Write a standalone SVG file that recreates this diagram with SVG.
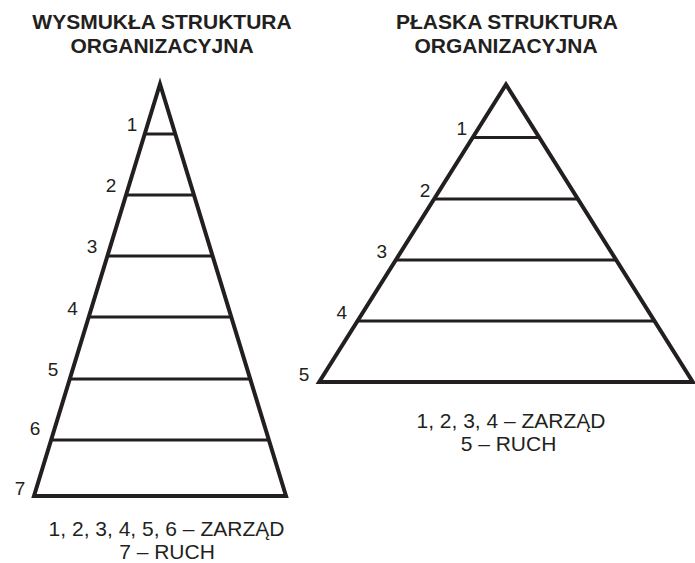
<svg xmlns="http://www.w3.org/2000/svg" width="695" height="563" viewBox="0 0 695 563">
<style>
.title{font-family:"Liberation Sans",Arial,sans-serif;font-weight:bold;font-size:21px;fill:#231f20;text-anchor:middle}
.lbl{font-family:"Liberation Sans",Arial,sans-serif;font-size:19px;fill:#231f20;text-anchor:middle}
.cap{font-family:"Liberation Sans",Arial,sans-serif;font-size:21px;fill:#231f20;text-anchor:middle}
.outline{fill:none;stroke:#231f20;stroke-width:4;stroke-linejoin:miter}
.tier{stroke:#231f20;stroke-width:3}
</style>
<rect width="695" height="563" fill="#ffffff"/>
<g id="tall-structure">
<text class="title" x="162" y="29">WYSMUKŁA STRUKTURA</text>
<text class="title" x="162" y="53">ORGANIZACYJNA</text>
<g id="tall-tiers">
<line class="tier" x1="144.7" y1="134" x2="175.3" y2="134"/>
<line class="tier" x1="126.1" y1="195" x2="193.9" y2="195"/>
<line class="tier" x1="107.4" y1="256" x2="212.6" y2="256"/>
<line class="tier" x1="88.7" y1="317" x2="231.3" y2="317"/>
<line class="tier" x1="69.8" y1="379" x2="250.2" y2="379"/>
<line class="tier" x1="51.1" y1="440" x2="268.9" y2="440"/>
</g>
<polygon class="outline" points="160,84 286,496 34,496"/>
<g id="tall-labels">
<text class="lbl" x="132" y="131">1</text>
<text class="lbl" x="111" y="192">2</text>
<text class="lbl" x="92" y="253">3</text>
<text class="lbl" x="72.5" y="315">4</text>
<text class="lbl" x="53" y="376">5</text>
<text class="lbl" x="35" y="435">6</text>
<text class="lbl" x="20" y="495">7</text>
</g>
<text class="cap" x="166.5" y="536">1, 2, 3, 4, 5, 6 – ZARZĄD</text>
<text class="cap" x="167" y="559">7 – RUCH</text>
</g>
<g id="flat-structure">
<text class="title" x="507" y="29">PŁASKA STRUKTURA</text>
<text class="title" x="506" y="53">ORGANIZACYJNA</text>
<g id="flat-tiers">
<line class="tier" x1="472.7" y1="137.5" x2="539.3" y2="137.5"/>
<line class="tier" x1="434.1" y1="199" x2="577.9" y2="199"/>
<line class="tier" x1="395.8" y1="260" x2="616.2" y2="260"/>
<line class="tier" x1="357.5" y1="321" x2="654.5" y2="321"/>
</g>
<polygon class="outline" points="506,84.5 692.8,382 319.2,382"/>
<g id="flat-labels">
<text class="lbl" x="461.7" y="135">1</text>
<text class="lbl" x="425" y="196.7">2</text>
<text class="lbl" x="381.7" y="258">3</text>
<text class="lbl" x="341.7" y="319">4</text>
<text class="lbl" x="304" y="380.7">5</text>
</g>
<text class="cap" x="511" y="428">1, 2, 3, 4 – ZARZĄD</text>
<text class="cap" x="508.5" y="451">5 – RUCH</text>
</g>
</svg>
